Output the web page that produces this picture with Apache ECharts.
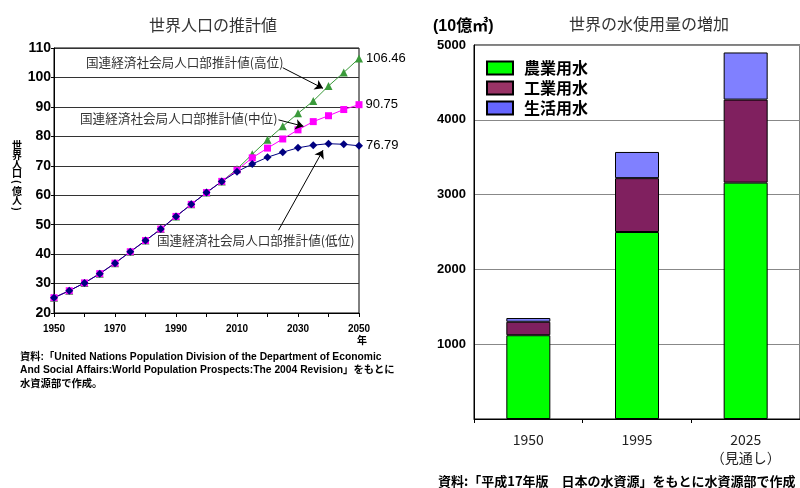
<!DOCTYPE html>
<html>
<head>
<meta charset="utf-8">
<script src="https://cdn.jsdelivr.net/npm/echarts@6/dist/echarts.min.js"></script>
<style>
    html, body { margin: 0; padding: 0; background: #fff; }
    #main { width: 800px; height: 488px; }
</style>
</head>
<body>
<div id="main"></div>
<script>
    // 世界人口（億人） 5年ごと
    var years = [1950, 1955, 1960, 1965, 1970, 1975, 1980, 1985, 1990, 1995, 2000,
        2005, 2010, 2015, 2020, 2025, 2030, 2035, 2040, 2045, 2050];
    var popHigh = [25.19, 27.56, 30.23, 33.36, 36.92, 40.8, 44.6, 48.5, 52.8, 56.9, 60.9,
        64.7, 68.9, 73.9, 78.8, 83.4, 87.8, 92.0, 97.1, 101.7, 106.46];
    var popMid = [25.19, 27.56, 30.23, 33.36, 36.92, 40.8, 44.6, 48.5, 52.8, 56.9, 60.9,
        64.7, 68.5, 72.7, 76.0, 79.1, 82.2, 85.0, 87.0, 89.1, 90.75];
    var popLow = [25.19, 27.56, 30.23, 33.36, 36.92, 40.8, 44.6, 48.5, 52.8, 56.9, 60.9,
        64.7, 68.0, 70.6, 72.9, 74.6, 76.1, 77.0, 77.5, 77.3, 76.79];
    var endLabels = ['106.46', '90.75', '76.79'];

    // 世界の水使用量（10億㎥）
    var waterYears = ['1950', '1995', '2025\n（見通し）'];
    var agri = [1120, 2500, 3160];       // 農業用水
    var industrial = [180, 720, 1110];   // 工業用水
    var domestic = [50, 350, 630];       // 生活用水

    var jp = '"Noto Sans CJK JP", sans-serif';
    var ar = '"Liberation Sans", Arial, "Noto Sans CJK JP", sans-serif';

    function pairs(vals) {
        return vals.map(function (v, i) { return [years[i], v]; });
    }
    function withEndLabel(vals, text) {
        var d = pairs(vals);
        var last = d.length - 1;
        d[last] = {
            value: d[last],
            label: {
                show: true, position: 'right', distance: 3,
                formatter: text, color: '#000', fontSize: 13, fontFamily: ar
            }
        };
        return d;
    }

    // 縦書きの軸名（世界人口（億人））
    function yName() {
        var items = [];
        var chars = ['世', '界', '人', '口', '(', '億', '人', ')'];
        var ys = [145, 155, 164, 173, 182, 191, 200, 209];
        chars.forEach(function (c, i) {
            var paren = c === '(' || c === ')';
            items.push({
                type: 'text', x: 17, y: ys[i],
                rotation: paren ? -Math.PI / 2 : 0,
                style: { text: c, font: 'bold 10px ' + jp, fill: '#000', align: 'center', verticalAlign: 'middle' }
            });
        });
        return items;
    }

    var chart = echarts.init(document.getElementById('main'));
    var option = {
        animation: false,
        backgroundColor: '#fff',
        title: [
            { text: '世界人口の推計値', left: 208, top: 12, textAlign: 'center',
              textStyle: { fontFamily: jp, fontSize: 16, fontWeight: 'normal', color: '#333' } },
            { text: '世界の水使用量の増加', left: 644, top: 11, textAlign: 'center',
              textStyle: { fontFamily: jp, fontSize: 16, fontWeight: 'normal', color: '#333' } }
        ],
        legend: {
            orient: 'vertical', left: 486, top: 60, padding: 0, icon: 'rect',
            itemWidth: 26, itemHeight: 13, itemGap: 4,
            textStyle: { fontFamily: jp, fontSize: 16, fontWeight: 'bold', color: '#000', padding: [0, 0, 0, 6] },
            data: [
                { name: '農業用水', itemStyle: { color: '#00ff00' } },
                { name: '工業用水', itemStyle: { color: '#993366' } },
                { name: '生活用水', itemStyle: { color: '#6666ff' } }
            ]
        },
        grid: [
            { left: 54, right: 441, top: 48, bottom: 175, show: true,
              borderColor: '#000', borderWidth: 1, backgroundColor: 'transparent' },
            { left: 474, right: -1, top: 45, bottom: 69, show: true,
              borderColor: '#000', borderWidth: 1, backgroundColor: 'transparent' }
        ],
        xAxis: [
            {
                type: 'value', gridIndex: 0, min: 1950, max: 2050, interval: 10,
                axisLine: { lineStyle: { color: '#000' } },
                axisTick: { show: true, length: 4, lineStyle: { color: '#000' } },
                splitLine: { show: false },
                axisLabel: {
                    color: '#000', fontFamily: ar, fontSize: 10, fontWeight: 'bold', margin: 11,
                    formatter: function (v) { return (v - 1950) % 20 === 0 ? String(v) : ''; }
                }
            },
            {
                type: 'category', gridIndex: 1, data: waterYears,
                axisLine: { lineStyle: { color: '#000' } },
                axisTick: { show: true, length: 4, lineStyle: { color: '#000' } },
                axisLabel: { color: '#222', fontFamily: jp, fontSize: 14, margin: 12, lineHeight: 18 }
            }
        ],
        yAxis: [
            {
                type: 'value', gridIndex: 0, min: 20, max: 110, interval: 10,
                axisLine: { show: true, lineStyle: { color: '#000' } },
                axisTick: { show: true, length: 3, lineStyle: { color: '#000' } },
                splitLine: { lineStyle: { color: '#333', width: 1 } },
                axisLabel: { color: '#000', fontFamily: ar, fontSize: 14, fontWeight: 'bold', margin: 3 }
            },
            {
                type: 'value', gridIndex: 1, min: 0, max: 5000, interval: 1000,
                axisLine: { show: true, lineStyle: { color: '#000' } },
                axisTick: { show: false },
                splitLine: { lineStyle: { color: '#888', width: 1 } },
                axisLabel: {
                    color: '#000', fontFamily: ar, fontSize: 13, fontWeight: 'bold', margin: 8,
                    formatter: function (v) { return v === 0 ? '' : String(v); }
                }
            }
        ],
        series: [
            {
                name: '高位', type: 'line', xAxisIndex: 0, yAxisIndex: 0,
                data: withEndLabel(popHigh, endLabels[0]),
                symbol: 'triangle', symbolSize: 8,
                lineStyle: { color: '#3a9a3a', width: 1 },
                itemStyle: { color: '#3a9a3a' }
            },
            {
                name: '中位', type: 'line', xAxisIndex: 0, yAxisIndex: 0,
                data: withEndLabel(popMid, endLabels[1]),
                symbol: 'rect', symbolSize: 7,
                lineStyle: { color: '#ff00ff', width: 1 },
                itemStyle: { color: '#ff00ff' }
            },
            {
                name: '低位', type: 'line', xAxisIndex: 0, yAxisIndex: 0,
                data: withEndLabel(popLow, endLabels[2]),
                symbol: 'diamond', symbolSize: 8,
                lineStyle: { color: '#000080', width: 1 },
                itemStyle: { color: '#000080' },
                markLine: {
                    silent: true, symbol: ['none', 'arrow'], symbolSize: 8,
                    lineStyle: { color: '#000', width: 1, type: 'solid' },
                    label: { show: false },
                    data: [
                        [{ coord: [2025, 103.3] }, { coord: [2038.2, 96.3] }],
                        [{ coord: [2023.6, 85.6] }, { coord: [2031.8, 83.4] }],
                        [{ coord: [2023.6, 48.1] }, { coord: [2038.2, 75.3] }]
                    ]
                }
            },
            {
                name: '農業用水', type: 'bar', stack: 'w', xAxisIndex: 1, yAxisIndex: 1,
                data: agri, barWidth: 44,
                itemStyle: { color: '#00ff00', borderColor: '#000', borderWidth: 1 }
            },
            {
                name: '工業用水', type: 'bar', stack: 'w', xAxisIndex: 1, yAxisIndex: 1,
                data: industrial, barWidth: 44,
                itemStyle: { color: '#80205f', borderColor: '#000', borderWidth: 1 }
            },
            {
                name: '生活用水', type: 'bar', stack: 'w', xAxisIndex: 1, yAxisIndex: 1,
                data: domestic, barWidth: 44,
                itemStyle: { color: '#8080ff', borderColor: '#000', borderWidth: 1 }
            }
        ],
        graphic: [
            { type: 'text', left: 86, top: 56,
              style: { text: '国連経済社会局人口部推計値(高位)', font: '12.6px ' + jp, fill: '#333' } },
            { type: 'text', left: 80, top: 112,
              style: { text: '国連経済社会局人口部推計値(中位)', font: '12.6px ' + jp, fill: '#333' } },
            { type: 'text', left: 157, top: 234,
              style: { text: '国連経済社会局人口部推計値(低位)', font: '12.6px ' + jp, fill: '#333' } },
            { type: 'text', left: 357, top: 335,
              style: { text: '年', font: 'bold 10px ' + jp, fill: '#000' } },
            { type: 'text', left: 20, top: 350,
              style: {
                  text: '資料:「United Nations Population Division of the Department of Economic\n' +
                        'And Social Affairs:World Population Prospects:The 2004 Revision」をもとに\n' +
                        '水資源部で作成。',
                  font: 'bold 10.3px ' + ar, fill: '#000', lineHeight: 13.5
              } },
            { type: 'text', left: 433, top: 19,
              style: { text: '(10億㎥)', font: 'bold 16px ' + ar, fill: '#000' } },
            { type: 'text', left: 438, top: 475,
              style: { text: '資料:「平成17年版　日本の水資源」をもとに水資源部で作成', font: 'bold 13px ' + jp, fill: '#000' } }
        ].concat(yName())
    };
    chart.setOption(option);
</script>
</body>
</html>
